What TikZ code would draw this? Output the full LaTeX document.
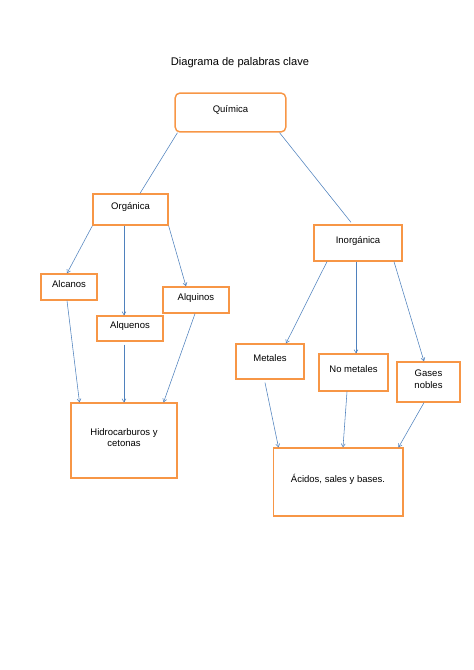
\documentclass[tikz,border=0pt]{standalone}
\usepackage{fontspec}
\setmainfont{Liberation Sans}
\usetikzlibrary{arrows.meta}
\definecolor{boxorange}{HTML}{F79646}
\definecolor{arrblue}{HTML}{4F81BD}

\begin{document}
\begin{tikzpicture}[
  x=0.0443cm, y=-0.0443cm,
  font=\fontsize{12}{14.5}\selectfont,
  box/.style={draw=boxorange, line width=1.8pt, fill=white, align=center,
              inner sep=0pt, text height=9pt, text depth=8pt},
  twoline/.style={text height=23.5pt, text depth=8pt},
  arr/.style={-{Straight Barb[length=4pt,width=5pt]}, draw=arrblue, line width=0.7pt},
  lin/.style={draw=arrblue, line width=0.7pt}
]
\useasboundingbox (0,0) rectangle (474,670);

\node (title) at (240,63) {\fontsize{14}{16}\selectfont Diagrama de palabras clave};

% top level
\node[box, rounded corners=6pt, minimum width=139.4pt, minimum height=49pt] (quim) at (230.5,112.5) {Química};
\node[box, minimum width=94.2pt, minimum height=38.9pt] (orgn) at (130.5,209.5) {Orgánica};
\node[box, minimum width=110.5pt, minimum height=45.2pt] (inorg) at (358,243) {Inorgánica};

% organic side
\node[box, minimum width=70.3pt, minimum height=32.7pt] (alc) at (69,287) {Alcanos};
\node[box, minimum width=82.9pt, minimum height=32.7pt] (alqi) at (196,300) {Alquinos};
\node[box, minimum width=82.9pt, minimum height=31.4pt] (alqe) at (130,328.5) {Alquenos};
\node[box, twoline, minimum width=133.1pt, minimum height=94.2pt] (hidro) at (124,440.5) {Hidrocarburos y\\cetonas};

% inorganic side
\node[box, minimum width=85.4pt, minimum height=44pt] (met) at (270,361.5) {Metales};
\node[box, minimum width=86.7pt, minimum height=46.5pt] (nomet) at (353.5,372.5) {No metales};
\node[box, twoline, minimum width=79.1pt, minimum height=50.2pt] (gases) at (428.5,382) {Gases\\nobles};
\node[box, minimum width=163.3pt, minimum height=85.4pt] (acid) at (338,482) {Ácidos, sales y bases.};

\draw[lin] ([shift={(3,0)}]quim.south west) -- ([shift={(9.5,0)}]orgn.north);
\draw[lin] ([shift={(-7,0)}]quim.south east) -- ([shift={(-7,-2)}]inorg.north);

\draw[arr] (orgn.south west) -- ([shift={(-2,0)}]alc.north);
\draw[arr] ([shift={(-6.5,0)}]orgn.south) -- ([shift={(-6,0)}]alqe.north);
\draw[arr] (orgn.south east) -- ([shift={(-10,0)}]alqi.north);
\draw[arr] ([shift={(-2,0)}]alc.south) -- ([shift={(9,0)}]hidro.north west);
\draw[arr] ([shift={(-6,3)}]alqe.south) -- (hidro.north);
\draw[arr] ([shift={(-1,0)}]alqi.south) -- ([shift={(-14,0)}]hidro.north east);

\draw[arr] ([shift={(-31,0)}]inorg.south) -- ([shift={(16,0)}]met.north);
\draw[arr] ([shift={(-2,0)}]inorg.south) -- ([shift={(2.5,0)}]nomet.north);
\draw[arr] ([shift={(36,0)}]inorg.south) -- ([shift={(-4.5,0)}]gases.north);
\draw[arr] ([shift={(-5,3)}]met.south) -- ([shift={(6,0)}]acid.north west);
\draw[arr] ([shift={(-6.5,0)}]nomet.south) -- ([shift={(5,0)}]acid.north);
\draw[arr] ([shift={(-4.5,0)}]gases.south) -- ([shift={(-5,0)}]acid.north east);
\end{tikzpicture}
\end{document}
